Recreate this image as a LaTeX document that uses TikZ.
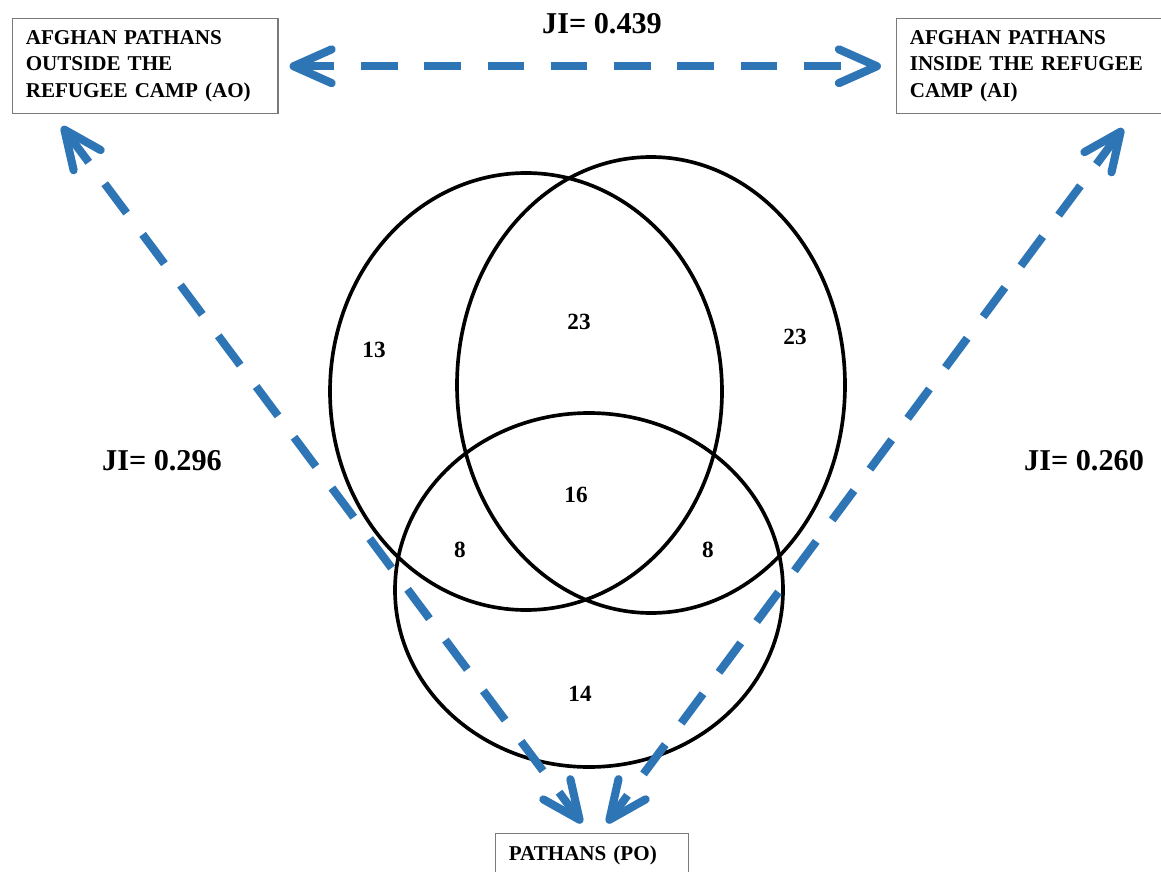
\documentclass[tikz,border=0pt]{standalone}
\usepackage{fontspec}
\setmainfont{Liberation Serif}
\usetikzlibrary{arrows.meta,calc}
\definecolor{LinkBlue}{HTML}{2E75B6}
\definecolor{BoxGray}{HTML}{7A7A7A}

\begin{document}
\begin{tikzpicture}[x=0.025cm,y=-0.025cm,
    grpbox/.style={draw=BoxGray, line width=1pt, align=left, inner xsep=9.3pt, inner ysep=0pt,
      font=\fontsize{15}{18.9}\selectfont\bfseries},
    link/.style={LinkBlue, line width=5.8pt, dash pattern=on 26pt off 19pt,
      {Straight Barb[length=27pt,width=24pt,line cap=round,line join=round]}-{Straight Barb[length=27pt,width=24pt,line cap=round,line join=round]}},
    count/.style={font=\fontsize{16.5}{19}\selectfont\bfseries},
    jival/.style={font=\fontsize{21.5}{25}\selectfont\bfseries}]
        \useasboundingbox (0,0) rectangle (1161,872);
        \fill[white] (0,0) rectangle (1161,872);

        \node[grpbox, anchor=north west, minimum height=67.6pt, text width=170pt] (ao) at (12,18)
          {AFGHAN PATHANS\\OUTSIDE THE\\REFUGEE CAMP (AO)};
        \node[grpbox, anchor=north west, minimum height=67.6pt, text width=200pt] (ai) at (896,18)
          {AFGHAN PATHANS\\INSIDE THE REFUGEE\\CAMP (AI)};
        \node[grpbox, anchor=north west, minimum height=31pt, text width=118.7pt] (po) at (495,833)
          {PATHANS (PO)};

        \draw[line width=2.6pt] (526,391.5) ellipse [x radius=196, y radius=218.5];
        \draw[line width=2.6pt] (651,385) ellipse [x radius=194, y radius=228];
        \draw[line width=2.6pt] (589,590) ellipse [x radius=194, y radius=177];

        \foreach \nm/\x/\y/\v in {aoOnly/374/350/13, aoai/579/322/23, aiOnly/795/337/23, allThree/576/495/16,
                                  aopo/460/550/8, aipo/708/550/8, poOnly/580/694/14}
          \node[count] (\nm) at (\x,\y) {\v};

        \node[jival] (jiTop) at (602,24) {JI= 0.439};
        \node[jival] (jiLeft) at (162,461) {JI= 0.296};
        \node[jival] (jiRight) at (1084,461) {JI= 0.260};

        \coordinate (aoFoot) at ($(ao.south west)+(50,12)$);
        \coordinate (aiFoot) at ($(ai.south west)+(227,14)$);
        \coordinate (poLeft) at ($(po.north west)+(87,-10)$);
        \coordinate (poRight) at ($(po.north west)+(112,-10)$);

        \draw[link, shorten <=7.8pt, shorten >=10.7pt] (ao.east) -- (ai.west);
        \draw[link] (aoFoot) -- (poLeft);
        \draw[link] (aiFoot) -- (poRight);
      \end{tikzpicture}
\end{document}
